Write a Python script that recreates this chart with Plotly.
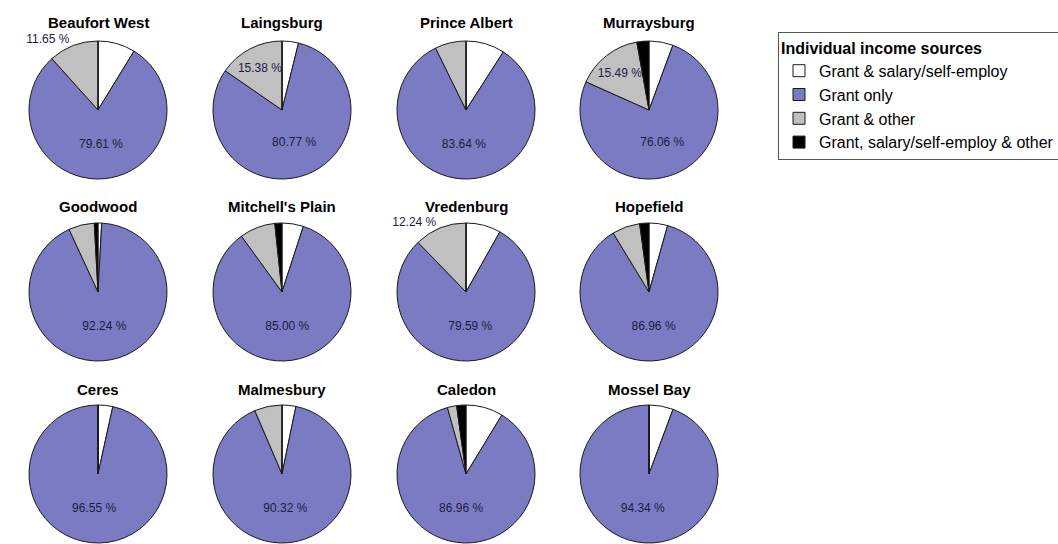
import plotly.graph_objects as go

# ---------------- data ----------------
towns = ["Beaufort West", "Laingsburg", "Prince Albert", "Murraysburg",
         "Goodwood", "Mitchell's Plain", "Vredenburg", "Hopefield",
         "Ceres", "Malmesbury", "Caledon", "Mossel Bay"]
categories = ["Grant & salary/self-employ", "Grant only", "Grant & other",
              "Grant, salary/self-employ & other"]
grant_salary = [8.74, 3.85, 9.09, 5.63, 0.86, 5.00, 8.16, 4.35, 3.45, 3.23, 8.70, 5.66]
grant_only = [79.61, 80.77, 83.64, 76.06, 92.24, 85.00, 79.59, 86.96, 96.55, 90.32, 86.96, 94.34]
grant_other = [11.65, 15.38, 7.27, 15.49, 6.03, 8.33, 12.24, 6.52, 0.0, 6.45, 2.17, 0.0]
grant_salary_other = [0.0, 0.0, 0.0, 2.82, 0.86, 1.67, 0.0, 2.17, 0.0, 0.0, 2.17, 0.0]
# where the "Grant & other" percentage label is written
other_label_pos = ["outside", "inside", "none", "inside", "none", "none",
                   "outside", "none", "none", "none", "none", "none"]

# ---------------- style ----------------
W, H = 1058, 544
colors = ["#ffffff", "#7b7bc3", "#c0c0c0", "#000000"]
col_x = [98, 282, 466, 649]
row_y = [110, 292, 474]
title_y = [23, 206, 389]
R = 69
FONT = "Liberation Sans, Arial, sans-serif"
label_color = "#1c1c40"

fig = go.Figure()
annotations = []
for i, town in enumerate(towns):
    r, c = divmod(i, 4)
    cx, cy = col_x[c], row_y[r]
    vals = [grant_salary[i], grant_only[i], grant_other[i], grant_salary_other[i]]
    texts = ["", f"{grant_only[i]:.2f} %",
             f"{grant_other[i]:.2f} %" if other_label_pos[i] != "none" else "", ""]
    tpos = ["none", "inside", other_label_pos[i], "none"]
    fig.add_trace(go.Pie(
        labels=categories, values=vals, text=texts, textinfo="text",
        textposition=tpos, insidetextorientation="horizontal",
        sort=False, direction="clockwise", rotation=0,
        marker=dict(colors=colors, line=dict(color="#1a1a1a", width=1)),
        textfont=dict(family=FONT, size=12, color=label_color),
        hoverinfo="label+percent", showlegend=(i == 0), name=town,
        domain=dict(x=[(cx - R) / W, (cx + R) / W],
                    y=[max(0, 1 - (cy + R) / H), min(1, 1 - (cy - R) / H)]),
    ))
    annotations.append(dict(
        text=f"<b>{town}</b>", x=cx / W, y=1 - title_y[r] / H,
        xref="paper", yref="paper", xanchor="center", yanchor="middle",
        showarrow=False, font=dict(family=FONT, size=15, color="#000000")))

fig.update_layout(
    width=W, height=H,
    margin=dict(l=0, r=0, t=0, b=0, autoexpand=False),
    paper_bgcolor="white", plot_bgcolor="white",
    annotations=annotations,
    uniformtext=dict(minsize=12, mode="show"),
    legend=dict(
        x=778 / W, y=1 - 32 / H, xanchor="left", yanchor="top",
        bgcolor="white", bordercolor="#555555", borderwidth=1,
        title=dict(text="<b>Individual income sources</b>",
                   font=dict(family=FONT, size=16, color="#000000")),
        font=dict(family=FONT, size=16, color="#000000"),
        traceorder="normal",
    ),
)

fig.write_html("out.html")
